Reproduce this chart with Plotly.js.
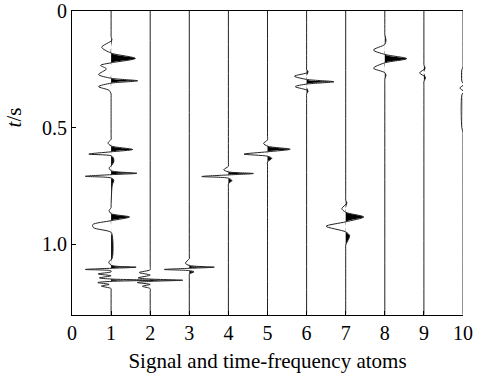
<!DOCTYPE html>
<html>
<head>
<meta charset="utf-8">
<script src="https://cdn.plot.ly/plotly-3.0.1.min.js"></script>
<style>html,body{margin:0;padding:0;background:#fff;}#chart{width:478px;height:381px;}</style>
</head>
<body>
<div id="chart"></div>
<script>
// Trace positions (signal at 1, atoms at 2..10)
const traceBase = [1, 2, 3, 4, 5, 6, 7, 8, 9, 10];
const xTickVals = [0, 1, 2, 3, 4, 5, 6, 7, 8, 9, 10];
const yTickVals = [0, 0.5, 1.0];
const yTickText = ['0', '0.5', '1.0'];

// Wiggle samples: time (s) and horizontal deflection (x units)
const sig1T = [0, 0.095, 0.11, 0.125, 0.155, 0.18, 0.203, 0.222, 0.233, 0.248, 0.272, 0.288, 0.299, 0.309, 0.324, 0.34, 0.355, 0.37,
  0.535, 0.55, 0.565, 0.578, 0.593, 0.603, 0.613, 0.62, 0.63, 0.645, 0.66, 0.672, 0.684, 0.695, 0.701, 0.708, 0.715, 0.724, 0.745,
  0.83, 0.842, 0.855, 0.868, 0.882, 0.898, 0.915, 0.928, 0.948, 0.975, 1.04, 1.062,
  1.075, 1.089, 1.097, 1.102, 1.107, 1.113, 1.117, 1.126, 1.134, 1.143, 1.148, 1.153, 1.158, 1.163, 1.171, 1.178, 1.189, 1.2, 1.3];
const sig1D = [0, 0, 0, 0.02, -0.24, 0, 0.62, 0, -0.27, -0.12, -0.32, 0, 0.68, 0, -0.32, -0.05, 0, 0,
  0, 0, -0.08, 0, 0.55, 0, -0.57, 0, 0.06, 0.07, 0.02, -0.05, 0, 0.66, 0, -0.66, 0, 0.07, 0.03,
  0, 0, -0.05, 0, 0.47, 0, -0.47, -0.45, 0, 0.04, 0.045, 0.02,
  -0.06, 0, 0.64, 0, -0.66, 0, 0, -0.33, 0, -0.3, 0, 1.0, 0, -0.34, -0.05, -0.25, 0, 0, 0];

const atom2T = [0, 1.095, 1.108, 1.12, 1.131, 1.143, 1.148, 1.153, 1.158, 1.163, 1.171, 1.179, 1.189, 1.2, 1.3];
const atom2D = [0, 0, 0, -0.28, 0, -0.31, 0, 0.83, 0, -0.33, 0, -0.2, 0, 0, 0];

const atom3T = [0, 1.045, 1.06, 1.08, 1.09, 1.097, 1.102, 1.107, 1.112, 1.117, 1.127, 1.14, 1.3];
const atom3D = [0, 0, 0, -0.1, 0, 0.64, 0, -0.64, 0, 0.12, 0, 0, 0];

const atom4T = [0, 0.65, 0.665, 0.68, 0.689, 0.696, 0.702, 0.709, 0.716, 0.726, 0.74, 0.755, 1.3];
const atom4D = [0, 0, 0, -0.12, 0, 0.64, 0, -0.68, 0, 0.09, 0, 0, 0];

const atom5T = [0, 0.537, 0.552, 0.567, 0.579, 0.592, 0.603, 0.613, 0.622, 0.631, 0.646, 0.66, 1.3];
const atom5D = [0, 0, 0, -0.1, 0, 0.58, 0, -0.6, 0, 0.11, 0, 0, 0];

const atom6T = [0, 0.235, 0.25, 0.262, 0.279, 0.293, 0.303, 0.313, 0.324, 0.342, 0.356, 0.37, 1.3];
const atom6D = [0, 0, 0, 0.04, -0.31, 0, 0.7, 0, -0.29, 0.04, 0, 0, 0];

const atom7T = [0, 0.795, 0.81, 0.823, 0.846, 0.862, 0.882, 0.903, 0.922, 0.946, 0.962, 1.003, 1.018, 1.3];
const atom7D = [0, 0, 0, 0.03, -0.1, 0, 0.46, 0, -0.5, 0, 0.1, 0, 0, 0];

const atom8T = [0, 0.085, 0.1, 0.125, 0.143, 0.167, 0.186, 0.204, 0.222, 0.245, 0.264, 0.276, 0.292, 0.307, 1.3];
const atom8D = [0, 0, 0, 0.03, 0, -0.29, 0, 0.56, 0, -0.29, 0, 0.03, 0, 0, 0];

const atom9T = [0, 0.215, 0.23, 0.246, 0.265, 0.284, 0.303, 0.318, 1.3];
const atom9D = [0, 0, 0, 0.03, -0.11, 0.04, 0, 0, 0];

const atom10T = [0, 0.225, 0.24, 0.252, 0.3, 0.315, 0.33, 0.345, 0.36, 0.5, 0.52, 0.535, 1.3];
const atom10D = [0, 0, 0, -0.03, -0.03, 0.02, -0.08, 0.02, -0.03, -0.03, 0, 0, 0];

const allT = [sig1T, atom2T, atom3T, atom4T, atom5T, atom6T, atom7T, atom8T, atom9T, atom10T];
const allD = [sig1D, atom2D, atom3D, atom4D, atom5D, atom6D, atom7D, atom8D, atom9D, atom10D];

const serif = 'Liberation Serif, Times New Roman, serif';
const data = [];
// positive lobes filled black
traceBase.forEach(function (b, i) {
  data.push({
    type: 'scatter', mode: 'lines',
    x: allD[i].map(function (d) { return b + Math.max(d, 0); }),
    y: allT[i],
    fill: 'toself', fillcolor: '#000',
    line: { color: '#000', width: 0, shape: 'spline', smoothing: 0.8 },
    hoverinfo: 'skip', showlegend: false
  });
});
// wiggle lines
traceBase.forEach(function (b, i) {
  data.push({
    type: 'scatter', mode: 'lines',
    x: allD[i].map(function (d) { return b + d; }),
    y: allT[i],
    line: { color: '#222', width: 1, shape: 'spline', smoothing: 0.8 },
    hoverinfo: 'skip', showlegend: false
  });
});

const layout = {
  width: 478, height: 381,
  margin: { l: 72, r: 15, t: 11, b: 66 },
  paper_bgcolor: '#fff', plot_bgcolor: '#fff',
  showlegend: false,
  font: { family: serif, color: '#000', size: 20 },
  xaxis: {
    range: [0, 10], tickvals: xTickVals, ticktext: xTickVals.map(String),
    ticks: 'inside', ticklen: 4, tickcolor: '#000', tickwidth: 1,
    showline: true, linecolor: '#000', linewidth: 1, mirror: true,
    showgrid: false, zeroline: false,
    tickfont: { family: serif, size: 20, color: '#000' },
    title: { text: 'Signal and time-frequency atoms', font: { family: serif, size: 21, color: '#000' }, standoff: 10 }
  },
  yaxis: {
    range: [1.302, 0], tickvals: yTickVals, ticktext: yTickText,
    ticks: 'inside', ticklen: 4, tickcolor: '#000', tickwidth: 1,
    showline: true, linecolor: '#000', linewidth: 1, mirror: false,
    showgrid: false, zeroline: false,
    tickfont: { family: serif, size: 20, color: '#000' }
  },
  annotations: [{
    text: '<i>t</i>/s', xref: 'paper', yref: 'y', x: -0.146, y: 0.456,
    textangle: -90, showarrow: false, xanchor: 'center', yanchor: 'middle',
    font: { family: serif, size: 21, color: '#000' }
  }]
};

Plotly.newPlot('chart', data, layout, { staticPlot: true, displayModeBar: false });
</script>
</body>
</html>
